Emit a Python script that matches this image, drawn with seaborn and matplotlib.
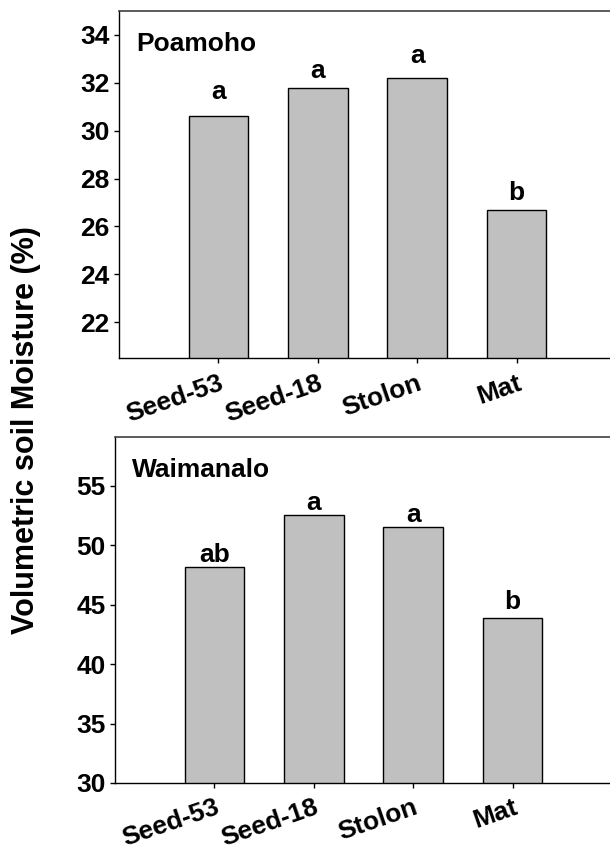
import matplotlib
matplotlib.use("Agg")
import matplotlib.pyplot as plt
import seaborn as sns
import pandas as pd

# Treatments and mean volumetric soil moisture (%) at the two sites
treatments = ["Seed-53", "Seed-18", "Stolon", "Mat"]
poamoho_moisture = [30.6, 31.8, 32.2, 26.7]
waimanalo_moisture = [48.2, 52.5, 51.5, 43.9]
poamoho_letters = ["a", "a", "a", "b"]
waimanalo_letters = ["ab", "a", "a", "b"]
poamoho_yticks = [22, 24, 26, 28, 30, 32, 34]
waimanalo_yticks = [30, 35, 40, 45, 50, 55]

sns.set_theme(style="white")
plt.rcParams["font.family"] = ["Liberation Sans", "DejaVu Sans"]
plt.rcParams["font.weight"] = "bold"
plt.rcParams["text.color"] = "black"
plt.rcParams["xtick.color"] = "black"
plt.rcParams["ytick.color"] = "black"
plt.rcParams["axes.labelcolor"] = "black"

FS = 19
W, H = 610, 850
fig = plt.figure(figsize=(W / 100, H / 100), dpi=100)


def px_axes(left, top, right, bottom):
    return fig.add_axes([left / W, 1 - bottom / H, (right - left) / W, (bottom - top) / H])


ax1 = px_axes(119, 11, 610, 358)
ax2 = px_axes(115, 437, 610, 783)


def panel(ax, values, letters, yticks, ylim, xmax, site, letter_gaps, xpad):
    df = pd.DataFrame({"treatment": treatments, "moisture": values})
    sns.barplot(data=df, x="treatment", y="moisture", ax=ax, color="#c0c0c0",
                saturation=1, width=0.6, edgecolor="black", linewidth=1.0)
    ax.set_ylim(*ylim)
    ax.set_xlim(-1, xmax)
    ax.set_yticks(yticks)
    ax.set_yticklabels([str(t) for t in yticks], fontsize=FS, fontweight="bold")
    ax.set_xticks(range(len(treatments)))
    ax.set_xticklabels(treatments, fontsize=FS, fontweight="bold", rotation=19,
                       ha="right", va="top", rotation_mode="anchor")
    ax.set_xlabel("")
    ax.set_ylabel("")
    ax.tick_params(axis="both", direction="out", length=3.6, width=1, color="black",
                   left=True, bottom=True)
    ax.tick_params(axis="y", pad=3)
    ax.tick_params(axis="x", pad=xpad)
    for s in ["left", "bottom"]:
        ax.spines[s].set_color("black")
        ax.spines[s].set_linewidth(1.0)
    ax.spines["top"].set_color("#404040")
    ax.spines["top"].set_linewidth(1.2)
    ax.spines["right"].set_visible(False)
    for i, (v, lab, g) in enumerate(zip(values, letters, letter_gaps)):
        ax.annotate(lab, (i, v), xytext=(0, g), textcoords="offset pixels",
                    ha="center", va="bottom", fontsize=FS, fontweight="bold")
    ax.text(0.035, 0.94, site, transform=ax.transAxes, ha="left", va="top",
            fontsize=FS, fontweight="bold")


panel(ax1, poamoho_moisture, poamoho_letters, poamoho_yticks, (20.5, 35.0), 3.94,
      "Poamoho", [12, 5, 10, 5], 6)
panel(ax2, waimanalo_moisture, waimanalo_letters, waimanalo_yticks, (30, 59.1), 3.98,
      "Waimanalo", [0, 0, 0, 4], 5)

fig.text(26 / W, 1 - 430 / H, "Volumetric soil Moisture (%)", rotation=90,
         ha="center", va="center", fontsize=22, fontweight="bold")

fig.savefig("out.png", dpi=100)
